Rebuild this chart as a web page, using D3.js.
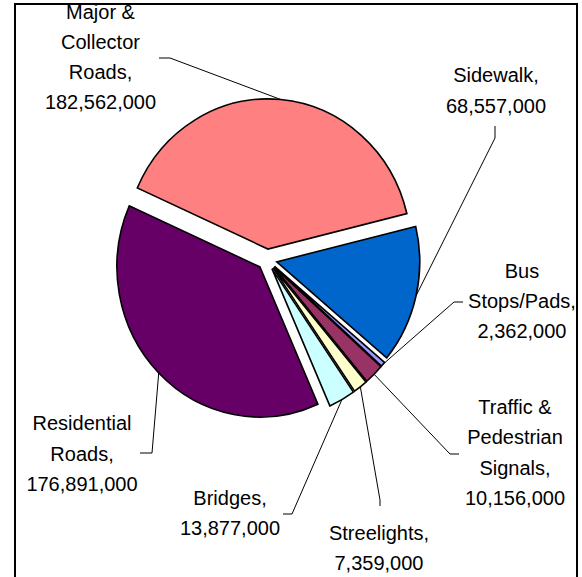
<!DOCTYPE html>
<html>
<head>
<meta charset="utf-8">
<script src="https://cdn.jsdelivr.net/npm/d3@7"></script>
<style>
  html, body { margin: 0; padding: 0; background: #fff; }
  svg { display: block; }
  text { font-family: "Liberation Sans", Arial, sans-serif; font-size: 20px; fill: #000; }
</style>
</head>
<body>
<svg id="chart" width="582" height="577"></svg>
<script>
// Capital cost by asset category (dollars)
const categories = [
  "Major & Collector Roads",
  "Sidewalk",
  "Bus Stops/Pads",
  "Traffic & Pedestrian Signals",
  "Streelights",
  "Bridges",
  "Residential Roads"
];
const values = [182562000, 68557000, 2362000, 10156000, 7359000, 13877000, 176891000];
const colors = ["#FF8080", "#0066CC", "#9999FF", "#993366", "#FFFFCC", "#CCFFFF", "#660066"];

// How each category name wraps in its label
const labelLines = [
  ["Major &", "Collector", "Roads,"],
  ["Sidewalk,"],
  ["Bus", "Stops/Pads,"],
  ["Traffic &", "Pedestrian", "Signals,"],
  ["Streelights,"],
  ["Bridges,"],
  ["Residential", "Roads,"]
];

// Label layout: text centre, first baseline, line step, and leader start/elbow
const labelLayout = [
  { x: 100.5, y: 18.5, step: 30.3, lead: [[159, 58], [170, 58]] },
  { x: 496,   y: 82,   step: 31,   lead: [[495, 126], [495, 138]] },
  { x: 522,   y: 278,  step: 30,   lead: [[463, 302], [454, 302]] },
  { x: 515,   y: 414,  step: 30.4, lead: [[459, 454], [450, 454]] },
  { x: 379,   y: 540,  step: 30,   lead: [[380, 506], [380, 500]] },
  { x: 230,   y: 505,  step: 30,   lead: [[283, 514], [292, 514]] },
  { x: 82,    y: 430,  step: 30.5, lead: [[140, 453], [152, 453]] }
];

const svg = d3.select("#chart");

// Chart frame
const frame = { x: 15, y: 4, w: 562, h: 600 };
svg.append("defs").append("clipPath").attr("id", "frameClip")
  .append("rect").attr("x", frame.x).attr("y", frame.y).attr("width", frame.w).attr("height", frame.h);

const root = svg.append("g").attr("clip-path", "url(#frameClip)");

// Pie geometry
const cx = 267, cy = 259.5;
const radius = 143;
const yStretch = 1.05;
const explode = 10;
const startDeg = -66;

const pie = d3.pie().sort(null).value(d => d)
  .startAngle(startDeg * Math.PI / 180)
  .endAngle(startDeg * Math.PI / 180 + 2 * Math.PI);
const arcs = pie(values);
const arc = d3.arc().innerRadius(0).outerRadius(radius);

function offsetOf(a) {
  const mid = (a.startAngle + a.endAngle) / 2;
  return [Math.sin(mid) * explode, -Math.cos(mid) * explode];
}

const pieG = root.append("g").attr("transform", `translate(${cx},${cy}) scale(1,${yStretch})`);
pieG.selectAll("path.slice")
  .data(arcs)
  .join("path")
  .attr("class", "slice")
  .attr("d", arc)
  .attr("transform", d => { const o = offsetOf(d); return `translate(${o[0]},${o[1]})`; })
  .attr("fill", (d, i) => colors[i])
  .attr("stroke", "#000")
  .attr("stroke-width", 1.6)
  .attr("stroke-linejoin", "miter")
  .attr("vector-effect", "non-scaling-stroke");

// Point on the outer arc at the middle of a slice, in page coordinates
function arcMidPoint(a) {
  const mid = (a.startAngle + a.endAngle) / 2;
  const o = offsetOf(a);
  return [cx + (o[0] + Math.sin(mid) * radius), cy + (o[1] - Math.cos(mid) * radius) * yStretch];
}

const fmt = d3.format(",");

// Leader lines
root.selectAll("polyline.leader")
  .data(arcs)
  .join("polyline")
  .attr("class", "leader")
  .attr("points", (d, i) => labelLayout[i].lead.concat([arcMidPoint(d)]).map(p => p.join(",")).join(" "))
  .attr("fill", "none")
  .attr("stroke", "#000")
  .attr("stroke-width", 1);

// Data labels: category name lines then value
const labels = root.selectAll("text.label")
  .data(arcs)
  .join("text")
  .attr("class", "label")
  .attr("text-anchor", "middle");
labels.each(function(d, i) {
  const lines = labelLines[i].concat([fmt(values[i])]);
  const L = labelLayout[i];
  d3.select(this).selectAll("tspan")
    .data(lines)
    .join("tspan")
    .attr("x", L.x)
    .attr("y", (t, j) => L.y + j * L.step)
    .text(t => t);
});

// Frame border
svg.append("rect")
  .attr("x", frame.x).attr("y", frame.y).attr("width", frame.w).attr("height", frame.h)
  .attr("fill", "none").attr("stroke", "#000").attr("stroke-width", 2);
</script>
</body>
</html>
